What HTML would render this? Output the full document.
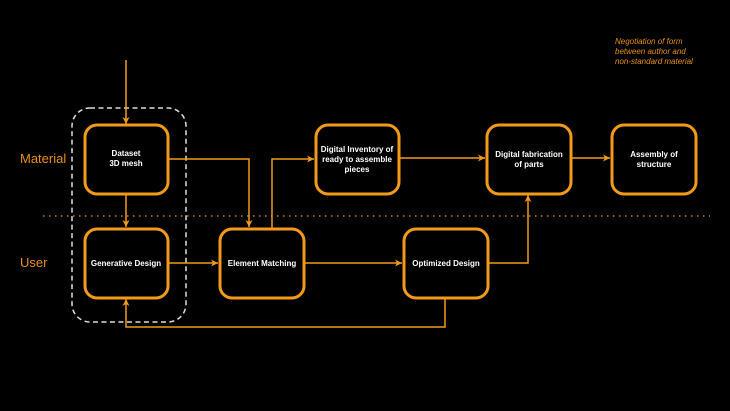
<!DOCTYPE html>
<html><head><style>
html,body{margin:0;padding:0;background:#000;}
svg{display:block;}
text{font-family:"Liberation Sans",sans-serif;}
.b{fill:#000;stroke:#f49a1a;stroke-width:3;}
.l{fill:none;stroke:#f49a1a;stroke-width:1.5;}
.t{fill:#fff;font-size:8px;font-weight:bold;text-anchor:middle;}
</style></head><body>
<svg width="730" height="411" viewBox="0 0 730 411">
<defs><marker id="a" markerWidth="8" markerHeight="8" refX="7" refY="4" orient="auto" markerUnits="userSpaceOnUse"><path d="M0,0.5 L7,4 L0,7.5 L2,4z" fill="#f49a1a"/></marker></defs>
<rect width="730" height="411" fill="#000"/>
<line x1="43" y1="216" x2="710" y2="216" stroke="#c8841e" stroke-width="1.6" stroke-dasharray="1.5,4.5"/>
<rect x="72" y="108" width="114" height="214" rx="18" fill="none" stroke="#ddd" stroke-width="1.5" stroke-dasharray="5,3.5"/>
<text x="20" y="163" fill="#e8901a" font-size="13">Material</text>
<text x="20" y="267" fill="#e8901a" font-size="13">User</text>
<g fill="#e8901a" font-size="8" font-style="italic"><text x="615" y="44">Negotiation of form</text><text x="615" y="54">between author and</text><text x="615" y="64">non-standard material</text></g>
<path class="l" d="M126,60 V124" marker-end="url(#a)"/>
<path class="l" d="M126,194 V227" marker-end="url(#a)"/>
<path class="l" d="M168,159 H249 V227" marker-end="url(#a)"/>
<path class="l" d="M272,228 V159 H314" marker-end="url(#a)"/>
<path class="l" d="M399,158 H485" marker-end="url(#a)"/>
<path class="l" d="M571,158 H610" marker-end="url(#a)"/>
<path class="l" d="M168,263 H218" marker-end="url(#a)"/>
<path class="l" d="M304,263 H402" marker-end="url(#a)"/>
<path class="l" d="M488,263 H528 V195" marker-end="url(#a)"/>
<path class="l" d="M445,298 V327 H126 V299" marker-end="url(#a)"/>
<rect class="b" x="85" y="125" width="83" height="69" rx="12"/>
<rect class="b" x="85" y="229" width="83" height="69" rx="12"/>
<rect class="b" x="220" y="229" width="84" height="69" rx="12"/>
<rect class="b" x="316" y="125" width="83" height="69" rx="12"/>
<rect class="b" x="487" y="125" width="84" height="69" rx="12"/>
<rect class="b" x="612" y="125" width="84" height="69" rx="12"/>
<rect class="b" x="404" y="229" width="84" height="69" rx="12"/>
<text class="t" x="126" y="156">Dataset</text><text class="t" x="126" y="166">3D mesh</text>
<text class="t" x="126" y="266">Generative Design</text>
<text class="t" x="262" y="266">Element Matching</text>
<text class="t" x="357" y="152">Digital Inventory of</text><text class="t" x="357" y="162">ready to assemble</text><text class="t" x="357" y="172">pieces</text>
<text class="t" x="529" y="157">Digital fabrication</text><text class="t" x="529" y="167">of parts</text>
<text class="t" x="654" y="157">Assembly of</text><text class="t" x="654" y="167">structure</text>
<text class="t" x="446" y="266">Optimized Design</text>
</svg>
</body></html>
